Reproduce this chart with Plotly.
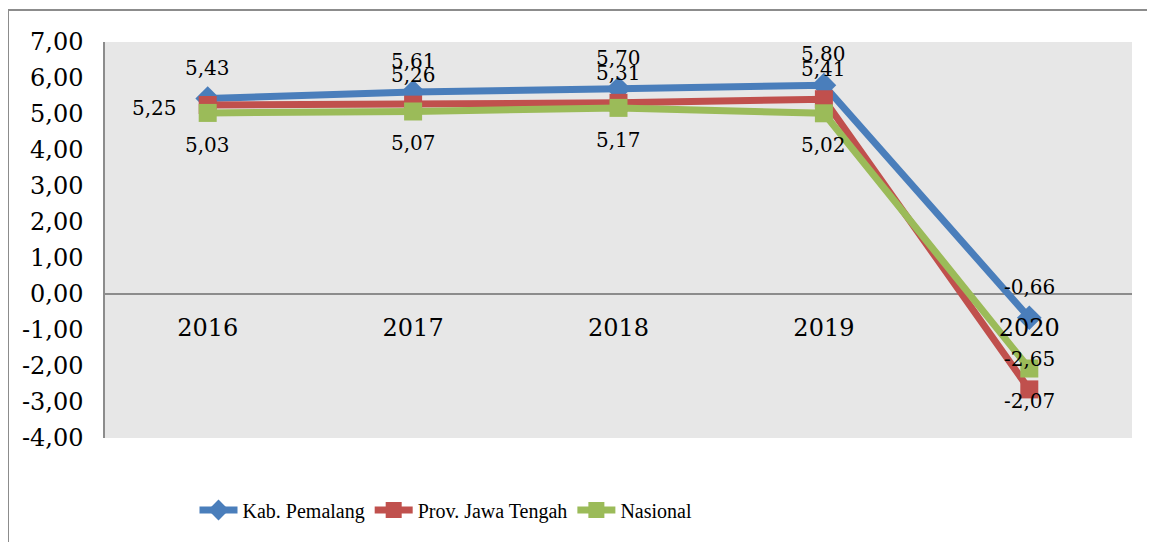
import plotly.graph_objects as go

years = ["2016", "2017", "2018", "2019", "2020"]
pemalang = [5.43, 5.61, 5.70, 5.80, -0.66]
jateng = [5.25, 5.26, 5.31, 5.41, -2.65]
nasional = [5.03, 5.07, 5.17, 5.02, -2.07]
y_ticks = [-4, -3, -2, -1, 0, 1, 2, 3, 4, 5, 6, 7]

names = ["Kab. Pemalang", "Prov. Jawa Tengah", "Nasional"]
colors = ["#4A7EBB", "#C0504D", "#9BBB59"]
symbols = ["diamond", "square", "square"]

def fmt(v):
    return f"{v:.2f}".replace(".", ",")

W, H = 1155, 542
OFF = 8  # page body margin
# target plot area on the page: x 105..1132, y 42..438
L = 105 - OFF
T = 42 - OFF
R = W - (1132 - OFF)
B = H - (438 - OFF)
PW = W - L - R
PH = H - T - B

fig = go.Figure()
for name, vals, col, sym in zip(names, [pemalang, jateng, nasional], colors, symbols):
    fig.add_trace(go.Scatter(
        x=years, y=vals, name=name, mode="lines+markers",
        line=dict(color=col, width=7),
        marker=dict(symbol=sym, size=19 if sym == "diamond" else 18, color=col,
                    line=dict(width=0)),
    ))

serif = "DejaVu Serif"
lab_font = dict(family=serif, size=20, color="#000")
annotations = []
for i, v in enumerate(pemalang):
    annotations.append(dict(x=i, y=v, text=fmt(v), showarrow=False, yshift=31, font=lab_font))
for i, v in enumerate(jateng):
    if i == 0:
        annotations.append(dict(x=i, y=v, text=fmt(v), showarrow=False, xshift=-53, yshift=-3,
                                font=lab_font))
    else:
        annotations.append(dict(x=i, y=v, text=fmt(v), showarrow=False, yshift=30, font=lab_font))
for i, v in enumerate(nasional):
    annotations.append(dict(x=i, y=v, text=fmt(v), showarrow=False, yshift=-32, font=lab_font))

zero_pos = 4 / 11

fig.update_layout(
    width=W, height=H,
    margin=dict(l=L, r=R, t=T, b=B, autoexpand=False),
    paper_bgcolor="white",
    plot_bgcolor="#e7e7e7",
    showlegend=True,
    legend=dict(orientation="h", x=(446 - 105) / PW, xanchor="center",
                y=(438 - 510) / PH, yanchor="middle",
                font=dict(family="Liberation Serif", size=20, color="#000"),
                itemwidth=38, bgcolor="rgba(0,0,0,0)"),
    xaxis=dict(type="category", range=[-0.5, 4.5], anchor="free", position=zero_pos,
               showgrid=False, showline=False, zeroline=False, automargin=False,
               ticks="outside", ticklen=12, tickcolor="rgba(0,0,0,0)",
               tickfont=dict(family=serif, size=24, color="#000"), fixedrange=True),
    yaxis=dict(range=[-4, 7], tickvals=y_ticks, ticktext=[fmt(v) for v in y_ticks],
               showgrid=False, showline=True, linecolor="#8c8c8c", linewidth=1.5,
               zeroline=True, zerolinecolor="#8c8c8c", zerolinewidth=1.5, automargin=False,
               ticks="outside", ticklen=15, tickcolor="rgba(0,0,0,0)",
               tickfont=dict(family=serif, size=24, color="#000"), fixedrange=True),
    annotations=annotations,
    shapes=[dict(type="rect", xref="paper", yref="paper",
                 x0=(8 - 105) / PW, x1=(1170 - 105) / PW,
                 y0=(438 - 560) / PH, y1=(438 - 10) / PH,
                 line=dict(color="#8c8c8c", width=2), fillcolor="rgba(0,0,0,0)",
                 layer="below")],
)

fig.write_html("out.html")
